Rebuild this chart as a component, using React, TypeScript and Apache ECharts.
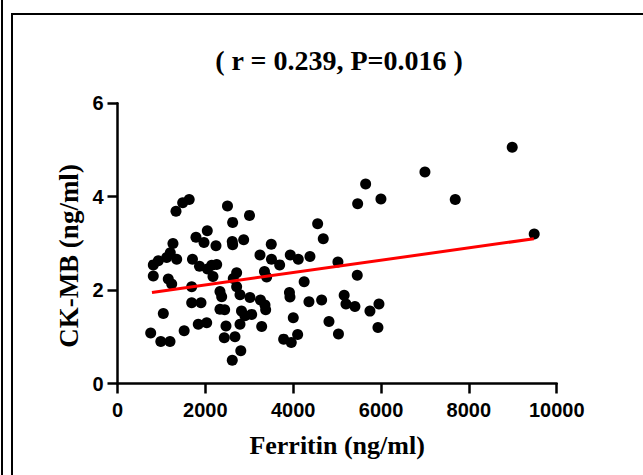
import React, { useEffect, useRef } from "react";
import * as echarts from "echarts";

const titleText = "( r = 0.239, P=0.016 )";
const xName = "Ferritin (ng/ml)";
const yName = "CK-MB (ng/ml)";

const ferritin = [
  1332, 1484, 1632, 2504, 2622, 3005, 4557, 4685, 1787, 2044,
  1969, 2242, 2613, 2622, 2873, 3501, 1263, 3244, 3506, 3934,
  4116, 4382, 929, 815, 1120, 1202, 1348, 1707, 1867, 2049,
  2144, 2258, 2174, 815, 1156, 1234, 1689, 2636, 2713, 3692,
  3346, 3396, 2713, 2333, 2372, 2789, 3016, 3255, 3358, 3374,
  3915, 3927, 4250, 4648, 4359, 1689, 1901, 1043, 2333, 2440,
  2823, 2902, 3055, 4002, 4815, 1839, 2031, 2470, 2789, 3283,
  1518, 756, 986, 1195, 2431, 2675, 3783, 3956, 4102, 2807,
  2613, 5019, 5031, 5161, 5202, 8987, 7000, 5650, 5468, 5998,
  7690, 9488, 5459, 5406, 5748, 5953, 5930,
];
const ckmb = [
  3.69, 3.87, 3.94, 3.8, 3.45, 3.6, 3.42, 3.1, 3.13, 3.27,
  3.02, 2.95, 3.04, 2.97, 3.08, 2.98, 3.0, 2.75, 2.66, 2.75,
  2.66, 2.72, 2.63, 2.54, 2.7, 2.8, 2.66, 2.66, 2.51, 2.45,
  2.53, 2.55, 2.29, 2.3, 2.24, 2.13, 2.07, 2.25, 2.37, 2.54,
  2.4, 2.28, 2.07, 1.97, 1.86, 1.9, 1.84, 1.79, 1.68, 1.58,
  1.95, 1.85, 2.18, 1.79, 1.75, 1.73, 1.73, 1.5, 1.59, 1.58,
  1.55, 1.45, 1.48, 1.41, 1.33, 1.27, 1.3, 1.23, 1.27, 1.22,
  1.13, 1.08, 0.9, 0.9, 0.98, 1.0, 0.95, 0.88, 1.05, 0.7,
  0.5, 2.6, 1.06, 1.89, 1.7, 5.06, 4.53, 4.27, 3.85, 3.95,
  3.94, 3.2, 2.32, 1.65, 1.55, 1.7, 1.2,
];
const fitX = [785, 9480];
const fitY = [1.95, 3.1];
const xTicks = { min: 0, max: 10000, interval: 2000 };
const yTicks = { min: 0, max: 6, interval: 2 };

export default function App() {
  const ref = useRef<HTMLDivElement>(null);
  useEffect(() => {
    if (!ref.current) return;
    const chart = echarts.init(ref.current, null, { renderer: "svg" });
    const axisCommon = {
      axisLine: { show: true, lineStyle: { color: "#000", width: 2.5 } },
      axisTick: { show: true, length: 10, lineStyle: { color: "#000", width: 2.5 } },
      splitLine: { show: false },
      nameLocation: "middle" as const,
    };
    const labelStyle = {
      fontFamily: "Liberation Sans",
      fontWeight: "bold" as const,
      fontSize: 20,
      color: "#000",
      formatter: (v: number) => String(v),
    };
    chart.setOption({
      animation: false,
      backgroundColor: "#fff",
      grid: { left: 117.5, right: 86.3, top: 103.3, bottom: 91.5, containLabel: false },
      xAxis: {
        type: "value",
        ...xTicks,
        ...axisCommon,
        name: xName,
        nameGap: 49,
        nameTextStyle: { fontFamily: "Liberation Serif", fontWeight: "bold", fontSize: 26, color: "#000" },
        axisLabel: { ...labelStyle, margin: 16 },
      },
      yAxis: {
        type: "value",
        ...yTicks,
        ...axisCommon,
        axisLabel: { ...labelStyle, margin: 14 },
      },
      graphic: [
        { type: "line", shape: { x1: 2, y1: 0, x2: 2, y2: 475 }, style: { stroke: "#000", lineWidth: 2 } },
        { type: "line", shape: { x1: 12, y1: 14, x2: 12, y2: 475 }, style: { stroke: "#000", lineWidth: 2 } },
        { type: "line", shape: { x1: 11, y1: 14, x2: 643, y2: 14 }, style: { stroke: "#000", lineWidth: 2 } },
        {
          type: "text",
          x: 339,
          y: 60,
          style: {
            text: titleText,
            fontFamily: "Liberation Serif",
            fontWeight: "bold",
            fontSize: 28,
            fill: "#000",
            textAlign: "center",
            textVerticalAlign: "middle",
          },
        },
        {
          type: "text",
          x: 69,
          y: 256,
          rotation: Math.PI / 2,
          style: {
            text: yName,
            fontFamily: "Liberation Serif",
            fontWeight: "bold",
            fontSize: 27,
            fill: "#000",
            textAlign: "center",
            textVerticalAlign: "middle",
          },
        },
      ],
      series: [
        {
          type: "scatter",
          data: ferritin.map((x, i) => [x, ckmb[i]]),
          symbolSize: 11,
          itemStyle: { color: "#000", opacity: 1 },
          z: 3,
        },
        {
          type: "line",
          data: fitX.map((x, i) => [x, fitY[i]]),
          showSymbol: false,
          lineStyle: { color: "#ff0000", width: 3 },
          z: 4,
        },
      ],
    });
    return () => chart.dispose();
  }, []);
  return <div ref={ref} style={{ position: "absolute", left: 0, top: 0, width: 643, height: 475 }} />;
}
